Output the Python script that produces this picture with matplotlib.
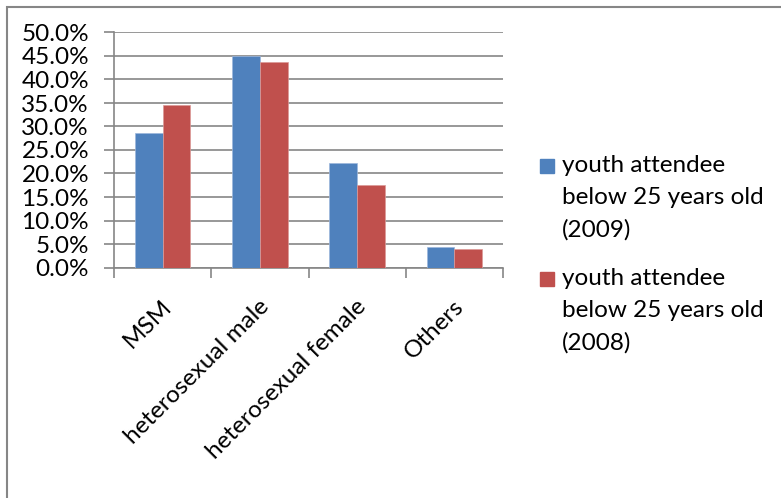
import matplotlib.pyplot as plt
import numpy as np
from matplotlib.patches import Rectangle
from matplotlib.ticker import FuncFormatter, MultipleLocator

# данные
categories = ["MSM", "heterosexual male", "heterosexual female", "Others"]
series_names = ["youth attendee\nbelow 25 years old\n(2009)",
                "youth attendee\nbelow 25 years old\n(2008)"]
y2009 = [28.6, 44.9, 22.2, 4.3]
y2008 = [34.6, 43.7, 17.5, 4.0]
colors = ["#4F81BD", "#C0504D"]

plt.rcParams['font.family'] = ['Lato', 'DejaVu Sans']
fs = 17.5
W, H = 781, 498
fig = plt.figure(figsize=(W / 100, H / 100), dpi=100)
ax = fig.add_axes([114 / W, 1 - 267.5 / H, (503 - 114) / W, (267.5 - 32.5) / H])

x = np.arange(len(categories))
bw = 1 / 3.5
ax.bar(x - bw / 2, y2009, bw, color=colors[0], edgecolor='#9db7dc', linewidth=0.5, zorder=3)
ax.bar(x + bw / 2, y2008, bw, color=colors[1], edgecolor='#dc9a98', linewidth=0.5, zorder=3)

ax.set_xlim(-0.5, len(categories) - 0.5)
ax.set_ylim(0, 50)
ax.yaxis.set_major_locator(MultipleLocator(5))
ax.yaxis.set_major_formatter(FuncFormatter(lambda v, p: f"{v:.1f}%"))
ax.grid(axis='y', color='#868686', linewidth=1.2, zorder=0)
ax.set_axisbelow(True)

for s in ['top', 'right']:
    ax.spines[s].set_visible(False)
for s in ['left', 'bottom']:
    ax.spines[s].set_color('#868686')
    ax.spines[s].set_linewidth(1.2)

# тики по границам категорий
ax.set_xticks(np.arange(-0.5, len(categories)))
ax.set_xticklabels([])
ax.tick_params(axis='x', length=7, width=1.2, color='#868686')
ax.tick_params(axis='y', length=7, width=1.2, color='#868686', labelsize=fs, pad=11)

# подписи категорий под углом 45
for i, c in enumerate(categories):
    ax.annotate(c, xy=(i, 0), xycoords='data', xytext=(6, -36), textcoords='offset pixels',
                rotation=45, rotation_mode='anchor', ha='right', va='center', fontsize=fs)

# легенда
legend_y = [166, 279]
for col, name, yc in zip(colors, series_names, legend_y):
    fig.patches.append(Rectangle((540 / W, 1 - (yc + 7) / H), 14 / W, 14 / H,
                                 transform=fig.transFigure, color=col))
    fig.text(562 / W, 1 - (yc - 11) / H, name, fontsize=fs, va='top', ha='left',
             linespacing=1.63)

# рамка диаграммы
fig.patches.append(Rectangle((7 / W, -0.1), 1.2, 1 - 7 / H + 0.1, transform=fig.transFigure,
                             fill=False, edgecolor='#868686', linewidth=1.5))

fig.savefig('out.png', dpi=100)
